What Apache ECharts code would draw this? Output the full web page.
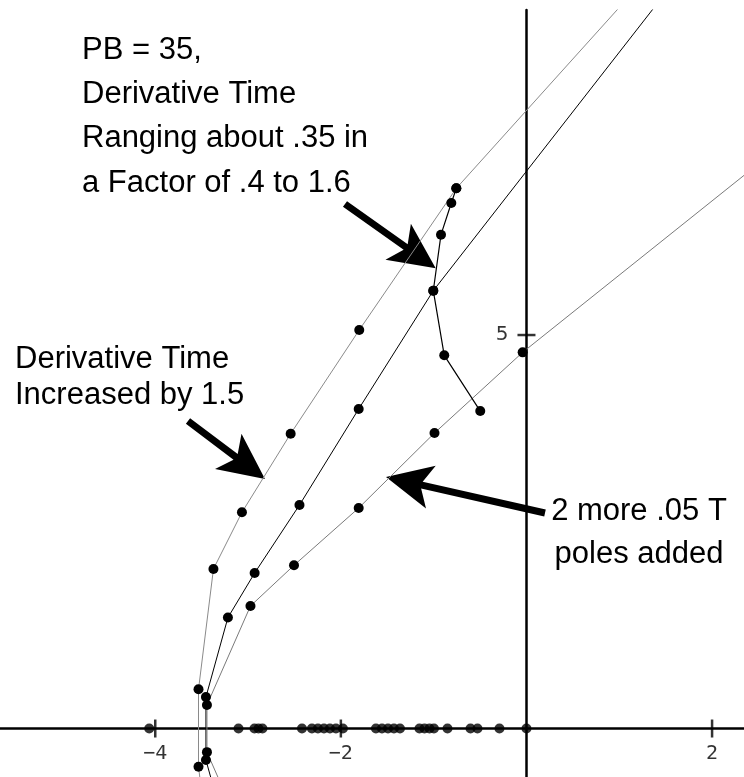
<!DOCTYPE html>
<html><head><meta charset="utf-8">
<script src="https://cdn.jsdelivr.net/npm/echarts@6/dist/echarts.min.js"></script>
<style>html,body{margin:0;padding:0;background:#fff}#c{width:744px;height:777px}</style>
</head><body><div id="c"></div>
<script>
// Root-locus branches (upper half, then conjugate below the real axis)
const branchA = [[1.64,10.0],[-0.756,6.864],[-1.802,5.064],[-2.541,3.746],[-3.066,2.747],[-3.373,2.027],[-3.534,0.498],[-3.534,-0.485],[-3.373,-2.03]];
const branchB = [[1.93,10.0],[-1.004,5.563],[-1.808,4.060],[-2.446,2.840],[-2.929,1.976],[-3.217,1.410],[-3.454,0.400],[-3.454,-0.400],[-3.217,-1.41]];
const branchC = [[2.95,7.60],[-0.041,4.780],[-0.991,3.755],[-1.808,2.802],[-2.505,2.074],[-2.974,1.557],[-3.443,0.299],[-3.443,-0.300],[-2.974,-1.56]];
const derivSweep = [[-0.498,4.034],[-0.886,4.742],[-1.004,5.563],[-0.921,6.275],[-0.810,6.677],[-0.756,6.864]];
const realAxisPoles = [-4.065,-3.103,-2.931,-2.888,-2.845,-2.419,-2.312,-2.247,-2.182,-2.118,-2.053,-1.978,-1.622,-1.557,-1.492,-1.428,-1.363,-1.153,-1.099,-1.045,-0.997,-0.851,-0.603,-0.528,-0.291,0];
const xTickValues = [-4,-2,2];
const yTickValues = [5];
const notes = [
  "PB = 35,\nDerivative Time\nRanging about .35 in\na Factor of .4 to 1.6",
  "Derivative Time\nIncreased by 1.5",
  "2 more .05 T\npoles added"
];

function arrowPts(x1,y1,x2,y2,sw,hl,hw,notch){
  const dx=x2-x1, dy=y2-y1, L=Math.hypot(dx,dy), ux=dx/L, uy=dy/L, nx=-uy, ny=ux;
  const bx=x2-ux*hl, by=y2-uy*hl;
  const jx=x2-ux*hl*notch, jy=y2-uy*hl*notch;
  const h=sw/2;
  return [[x1+nx*h,y1+ny*h],[jx+nx*h,jy+ny*h],[bx+nx*hw,by+ny*hw],[x2,y2],[bx-nx*hw,by-ny*hw],[jx-nx*h,jy-ny*h],[x1-nx*h,y1-ny*h]];
}

const chart = echarts.init(document.getElementById('c'), null, {renderer:'canvas'});
const DOT = 10;
const lineSeries = (data, color, w) => ({
  type:'line', data, symbol:'circle', symbolSize:DOT, showSymbol:true, clip:true,
  lineStyle:{color, width:w}, itemStyle:{color:'#000'}, silent:true, animation:false, z:3
});
chart.setOption({
  animation:false,
  grid:{left:0,right:0,top:10,bottom:0,containLabel:false,outerBoundsMode:'none'},
  xAxis:{type:'value',min:-5.673,max:2.344,
    axisLine:{onZero:true,lineStyle:{color:'#000',width:2.5}},
    axisTick:{show:false}, splitLine:{show:false}, axisLabel:{show:false}},
  yAxis:{type:'value',min:-0.616,max:9.13,
    axisLine:{onZero:true,lineStyle:{color:'#000',width:2.5}},
    axisTick:{show:false}, splitLine:{show:false}, axisLabel:{show:false}},
  series:[
    lineSeries(branchA,'#8a8a8a',1),
    lineSeries(branchB,'#000',1),
    lineSeries(branchC,'#7a7a7a',1),
    lineSeries(derivSweep,'#000',1.2),
    {type:'scatter',data:realAxisPoles.map(x=>[x,0]),symbol:'circle',symbolSize:DOT,itemStyle:{color:'#000'},silent:true,z:4},
    {type:'scatter',data:xTickValues.map(x=>[x,0]),symbol:'rect',symbolSize:[2.5,18],itemStyle:{color:'#000'},silent:true,z:5,
      label:{show:true,position:'bottom',distance:6,color:'#000',fontSize:20,fontFamily:'DejaVu Sans Mono',
        formatter:p=>{const v=p.value[0];return v<0?'\u2212'+(-v):String(v);}}},
    {type:'scatter',data:yTickValues.map(y=>[0,y]),symbol:'rect',symbolSize:[18,2.5],itemStyle:{color:'#000'},silent:true,z:5,
      label:{show:true,position:'left',distance:9,color:'#000',fontSize:20,fontFamily:'DejaVu Sans',formatter:p=>String(p.value[1])}}
  ],
  graphic:[
    {type:'text',left:82,top:28,style:{text:notes[0],font:'31px "Liberation Sans"',lineHeight:44.3,fill:'#000'}},
    {type:'text',left:15,top:341,style:{text:notes[1],font:'31px "Liberation Sans"',lineHeight:36,fill:'#000'}},
    {type:'text',x:639,y:490,style:{text:notes[2],font:'31px "Liberation Sans"',lineHeight:43,fill:'#000',align:'center',verticalAlign:'top'}},
    {type:'polygon',shape:{points:arrowPts(345,204,435.7,268.3,7,46,22,0.8)},style:{fill:'#000'}},
    {type:'polygon',shape:{points:arrowPts(188,421,265,479,7,46,22,0.8)},style:{fill:'#000'}},
    {type:'polygon',shape:{points:arrowPts(545,513,386,477,7,46,22,0.8)},style:{fill:'#000'}}
  ]
});
</script></body></html>
